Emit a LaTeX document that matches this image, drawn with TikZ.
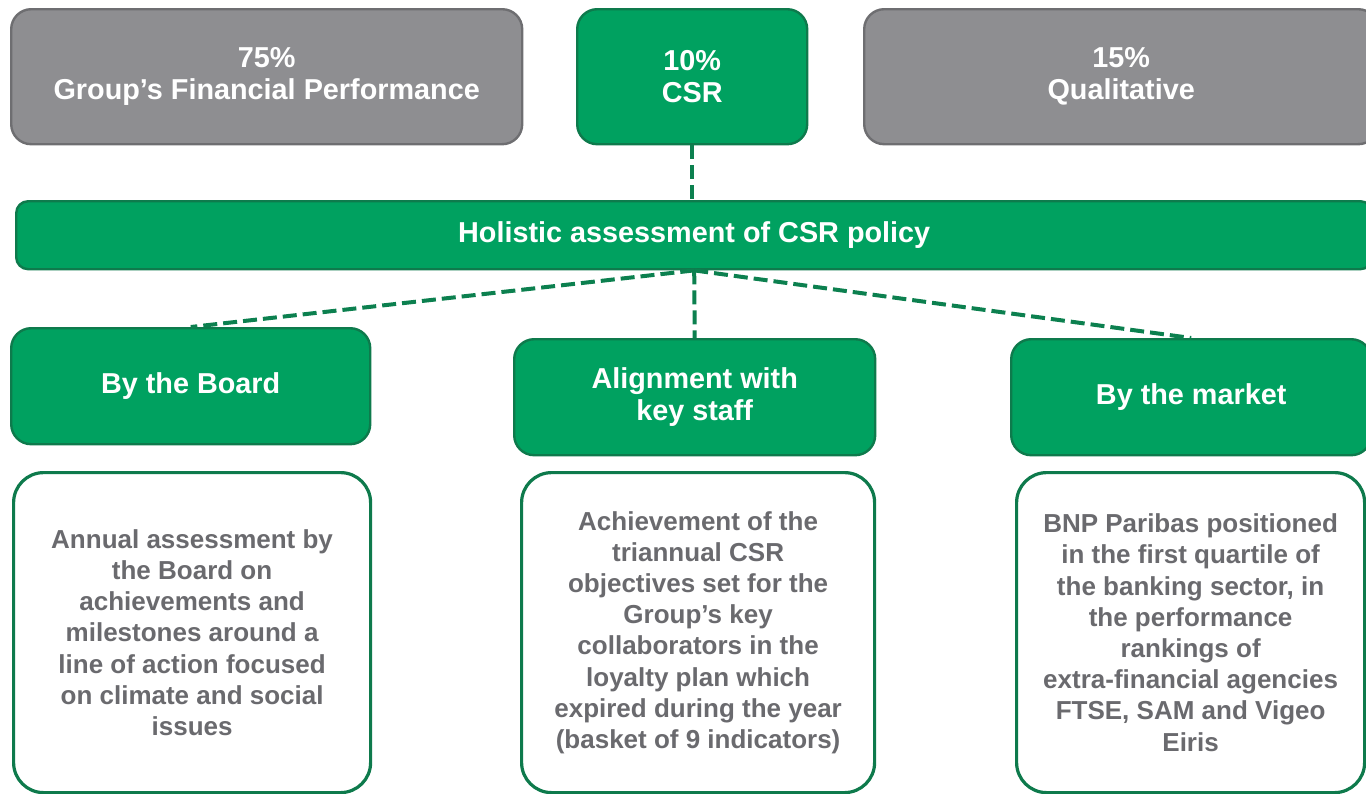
\documentclass[tikz,border=0pt]{standalone}
\usepackage{fontspec}
\setmainfont{Liberation Sans}
\usepackage{tikz}
\usetikzlibrary{positioning}
\definecolor{bnpgreen}{HTML}{00A160}
\definecolor{bnpdark}{HTML}{0E7A4C}
\definecolor{panelgrey}{HTML}{8E8E91}
\definecolor{paneledge}{HTML}{6E6E71}
\definecolor{bodygrey}{HTML}{6A6A6E}

\begin{document}
\begin{tikzpicture}[
    x=0.5pt, y=-0.5pt,
    share/.style={rectangle, rounded corners=10pt, line width=1.2pt, inner sep=0pt, minimum height=67.5pt, align=center, text=white, font=\bfseries\fontsize{14.4}{16}\selectfont, anchor=north west},
    shareother/.style={share, draw=paneledge, fill=panelgrey},
    sharecsr/.style={share, draw=bnpdark, fill=bnpgreen},
    policy/.style={rectangle, rounded corners=6pt, line width=1.2pt, draw=bnpdark, fill=bnpgreen, inner sep=0pt, text=white, font=\bfseries\fontsize{14.4}{16}\selectfont, anchor=north west},
    judge/.style={rectangle, rounded corners=10pt, line width=1.2pt, draw=bnpdark, fill=bnpgreen, inner sep=0pt, minimum height=58pt, align=center, text=white, font=\bfseries\fontsize{14.4}{16}\selectfont, anchor=north west},
    detail/.style={rectangle, rounded corners=15pt, line width=1.6pt, draw=bnpdark, fill=white, inner sep=0pt, minimum height=160pt, align=center, text=bodygrey, font=\bfseries\fontsize{13}{15.6}\selectfont, anchor=north west},
    link/.style={dashed, dash pattern=on 7pt off 3pt, line width=2pt, bnpdark!85!bnpgreen}
]
\useasboundingbox (0,0) rectangle (1366,793);

% weights
\node[shareother, minimum width=255.5pt] (financial) at (10,8) {75\%\\Group’s Financial Performance};
\node[sharecsr, minimum width=115pt] (csr) at (576,8) {10\%\\CSR};
\node[shareother, minimum width=257pt] (qualitative) at (863,8) {15\%\\Qualitative};

\node[policy, minimum width=678pt, minimum height=34pt] (holistic) at (15,200) {Holistic assessment of CSR policy};

% the three views
\node[judge, minimum width=179.5pt] (board) at (10,327) {By the Board};
\node[judge, minimum width=180.5pt] (staff) at (513,338) {Alignment with\\key staff};
\node[judge, minimum width=180pt] (market) at (1010,338) {By the market};

\node[detail, minimum width=178.5pt] (boarddetail) at (12,471) {Annual assessment by\\the Board on\\achievements and\\milestones around a\\line of action focused\\on climate and social\\issues};
\node[detail, minimum width=176.5pt] (staffdetail) at (520,471) {Achievement of the\\triannual CSR\\objectives set for the\\Group’s key\\collaborators in the\\loyalty plan which\\expired during the year\\(basket of 9 indicators)};
\node[detail, minimum width=174pt] (marketdetail) at (1015,471) {BNP Paribas positioned\\in the first quartile of\\the banking sector, in\\the performance\\rankings of\\extra-financial agencies\\FTSE, SAM and Vigeo\\Eiris};

\draw[link] (csr.south) -- (csr.south |- holistic.north);
\draw[link] (holistic.south) -- (board.north);
\draw[link] (holistic.south) -- (staff.north);
\draw[link] (holistic.south) -- (market.north);
\end{tikzpicture}
\end{document}
